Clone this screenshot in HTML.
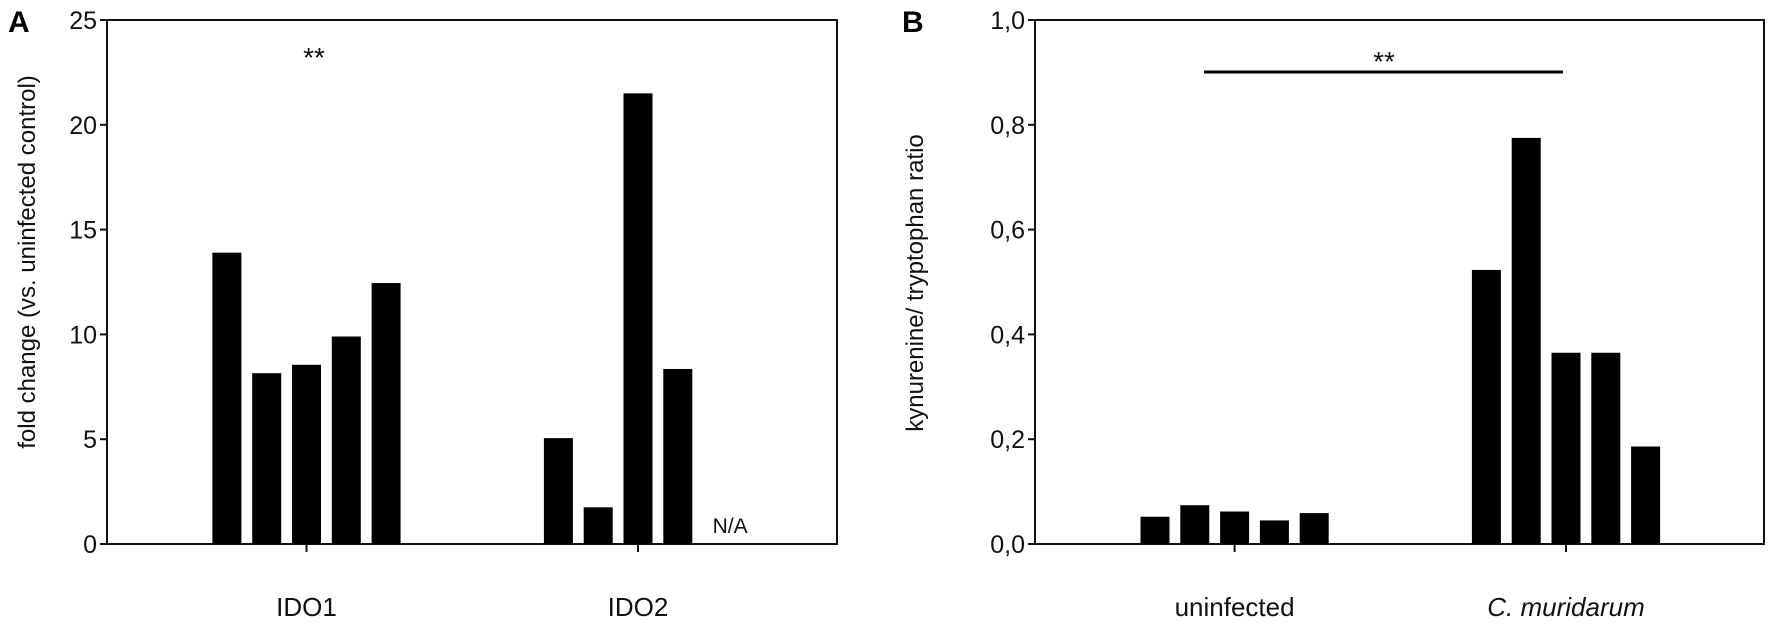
<!DOCTYPE html>
<html><head><meta charset="utf-8">
<style>
html,body{margin:0;padding:0;background:#fff;}
svg{display:block;font-family:"Liberation Sans",sans-serif;}
</style></head>
<body>
<svg id="chart" width="1772" height="627" viewBox="0 0 1772 627"></svg>
<script>
// Panel A data
const catsA = ["IDO1", "IDO2"];
const valsIDO1 = [13.9, 8.15, 8.55, 9.9, 12.45];
const valsIDO2 = [5.05, 1.75, 21.5, 8.35, null];
const ticksA = [0, 5, 10, 15, 20, 25];
const tickLabelsA = ["0", "5", "10", "15", "20", "25"];
// Panel B data
const catsB = ["uninfected", "C. muridarum"];
const valsUninf = [0.052, 0.074, 0.062, 0.045, 0.059];
const valsCmur = [0.523, 0.775, 0.365, 0.365, 0.186];
const ticksB = [0, 0.2, 0.4, 0.6, 0.8, 1.0];
const tickLabelsB = ["0,0", "0,2", "0,4", "0,6", "0,8", "1,0"];

const NS = "http://www.w3.org/2000/svg";
const svg = document.getElementById("chart");
function mk(tag, attrs, parent, text) {
  const e = document.createElementNS(NS, tag);
  for (const k in attrs) e.setAttribute(k, attrs[k]);
  if (text !== undefined) e.textContent = text;
  (parent || svg).appendChild(e);
  return e;
}

function panel(opt) {
  const g = mk("g", {});
  
  
  const x0 = opt.left, x1 = opt.right, yTop = 20, yBot = 544;
  const yScale = v => yBot - (v - opt.ymin) / (opt.ymax - opt.ymin) * (yBot - yTop);
  const frame = mk("rect", {x: x0, y: yTop, width: x1 - x0, height: yBot - yTop, fill: "none", stroke: "#111", "stroke-width": 2}, g);
  
  
  opt.ticks.forEach((t, i) => {
    const y = yScale(t);
    const tk = mk("line", {x1: x0 - 7, x2: x0, y1: y, y2: y, stroke: "#111", "stroke-width": 2}, g);
    
    
    const lb = mk("text", {x: x0 - 10, y: y + 9, "text-anchor": "end", "font-size": 25, fill: "#111"}, g, opt.tickLabels[i]);
    
    
  });
  const step = 39.8, bw = 29;
  opt.groups.forEach((grp, gi) => {
    const c = opt.centers[gi];
    const tk = mk("line", {x1: c, x2: c, y1: yBot, y2: yBot + 8, stroke: "#111", "stroke-width": 2}, g);
    
    
    const lb = mk("text", {x: c, y: 616, "text-anchor": "middle", "font-size": 26, fill: "#111", "font-style": opt.italic[gi] ? "italic" : "normal"}, g, opt.cats[gi]);
    
    
    grp.forEach((v, i) => {
      const cx = c + (i - 2) * step;
      if (v === null) {
        const na = mk("text", {x: cx - 5, y: 533, "font-size": 21, fill: "#111"}, g, "N/A");
        
        
        return;
      }
      const y = yScale(v);
      const b = mk("rect", {x: cx - bw / 2, y: y, width: bw, height: yBot - y, fill: "#000"}, g);
      
      
    });
  });
  const at = mk("text", {transform: `translate(${opt.titleX},${opt.titleY}) rotate(-90)`, "text-anchor": "middle", "font-size": 24, fill: "#111"}, g, opt.title);
  
  
  const pl = mk("text", {x: opt.letterX, y: 32, "font-size": 30, "font-weight": "bold", fill: "#000"}, g, opt.letter);
  
  
  return g;
}

const gA = panel({name: "panel-a", left: 107, right: 837, ymin: 0, ymax: 25, ticks: ticksA, tickLabels: tickLabelsA,
  groups: [valsIDO1, valsIDO2], centers: [306.5, 638], cats: catsA, italic: [false, false],
  title: "fold change (vs. uninfected control)", titleX: 35, titleY: 262, letter: "A", letterX: 8});
const sA = mk("text", {x: 314, y: 67, "text-anchor": "middle", "font-size": 28, fill: "#111"}, gA, "**");



const gB = panel({name: "panel-b", left: 1035, right: 1764, ymin: 0, ymax: 1, ticks: ticksB, tickLabels: tickLabelsB,
  groups: [valsUninf, valsCmur], centers: [1234.6, 1566], cats: catsB, italic: [false, true],
  title: "kynurenine/ tryptophan ratio", titleX: 923, titleY: 283, letter: "B", letterX: 902});
const sl = mk("line", {x1: 1204, x2: 1563, y1: 72, y2: 72, stroke: "#000", "stroke-width": 3}, gB);


const sB = mk("text", {x: 1384, y: 71, "text-anchor": "middle", "font-size": 28, fill: "#111"}, gB, "**");


</script>
</body></html>
